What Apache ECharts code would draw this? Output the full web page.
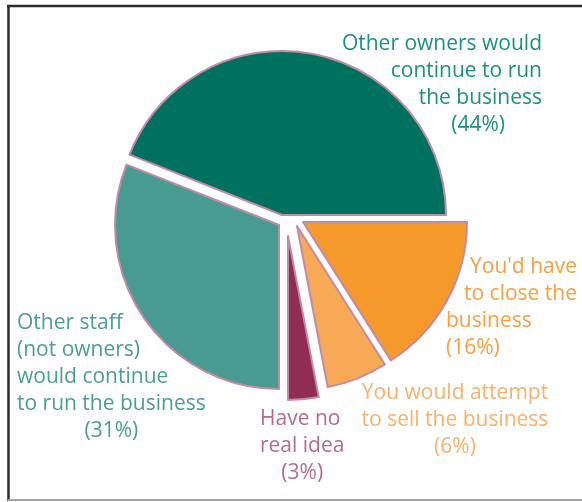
<!DOCTYPE html>
<html>
<head>
<meta charset="utf-8">
<script src="https://cdn.jsdelivr.net/npm/echarts@6/dist/echarts.min.js"></script>
<style>
  html, body { margin: 0; padding: 0; background: #ffffff; }
  #chart { width: 582px; height: 502px; }
</style>
</head>
<body>
<div id="chart"></div>
<script>
// Answers, in drawing order (counter-clockwise from 3 o'clock)
const categoryLines = [
  ['Other owners would', 'continue to run', 'the business'],
  ['Other staff', '(not owners)', 'would continue', 'to run the business'],
  ['Have no', 'real idea'],
  ['You would attempt', 'to sell the business'],
  ["You'd have", 'to close the', 'business']
];
const categories = categoryLines.map(lines => lines.join(' '));
const shares = [44, 31, 3, 6, 16];

// Look of each slice and its caption
const sliceFill   = ['#00705f', '#489b90', '#8f2d55', '#f8a956', '#f6992b'];
const captionInk  = ['#1a9181', '#4b9e94', '#b26d8d', '#f9b26b', '#f5a140'];
const edgeColor   = '#c38aa6';
const fontFamily  = '"Open Sans", "Noto Sans", sans-serif';
const fontSize    = 21;
const lineHeight  = 27;

// Exploded layout: each wedge sits on its own centre
const wedgeCentres = [[282, 215], [279, 225], [288, 236], [297, 226], [303, 222]];
const radius = 164;

// Caption blocks: anchor point, block alignment and per-line alignment
const captionLayout = [
  { x: 542, y: 31,  align: 'right',  lines: ['right', 'right', 'right'], pct: 'right', pctPad: 37 },
  { x: 17,  y: 310, align: 'left',   lines: ['left', 'left', 'left', 'left'], pct: 'center', pctPad: 0 },
  { x: 260, y: 406, align: 'left',   lines: ['left', 'left'], pct: 'center', pctPad: 0 },
  { x: 455, y: 380, align: 'center', lines: ['center', 'center'], pct: 'center', pctPad: 0 },
  { x: 446, y: 254, align: 'left',   lines: ['right', 'right', 'left'], pct: 'left', pctPad: 0, width: 131 }
];

function captionFor(i) {
  const lay = captionLayout[i];
  const base = { fontFamily, fontSize, lineHeight, color: captionInk[i], fontWeight: 'normal' };
  const rich = {};
  categoryLines[i].forEach((_, k) => { rich['l' + k] = Object.assign({}, base, { align: lay.lines[k] }); });
  rich.p = Object.assign({}, base, { align: lay.pct, padding: [0, lay.pctPad, 0, 0] });
  const label = {
    show: true,
    position: 'inside',
    formatter: p => categoryLines[i].map((t, k) => '{l' + k + '|' + t + '}').join('\n') + '\n{p|(' + p.value + '%)}',
    rich,
    fontFamily, fontSize, lineHeight, color: captionInk[i]
  };
  if (lay.width) { label.width = lay.width; label.overflow = 'none'; }
  return label;
}

const series = shares.map((_, i) => ({
  type: 'pie',
  center: wedgeCentres[i],
  radius: radius,
  startAngle: 0,
  clockwise: false,
  silent: true,
  animation: false,
  labelLine: { show: false },
  emphasis: { disabled: true },
  labelLayout: params => {
    const lay = captionLayout[params.dataIndex];
    return { x: lay.x, y: lay.y, align: lay.align, verticalAlign: 'top' };
  },
  data: shares.map((v, j) => ({
    value: v,
    name: categories[j],
    itemStyle: j === i
      ? { color: sliceFill[j], borderColor: edgeColor, borderWidth: 2 }
      : { color: 'rgba(0,0,0,0)', borderWidth: 0 },
    label: j === i ? captionFor(j) : { show: false }
  }))
}));

const chart = echarts.init(document.getElementById('chart'), null, { renderer: 'canvas' });
chart.setOption({
  backgroundColor: '#ffffff',
  graphic: [
    { type: 'line', z: -1, shape: { x1: 7, y1: 6, x2: 590, y2: 6 }, style: { stroke: '#2b2b2b', lineWidth: 2.5 } },
    { type: 'line', z: -1, shape: { x1: 8.5, y1: 5, x2: 8.5, y2: 501 }, style: { stroke: '#2b2b2b', lineWidth: 2.5 } },
    { type: 'line', z: -1, shape: { x1: 8, y1: 500, x2: 590, y2: 500 }, style: { stroke: '#a3a3a3', lineWidth: 2 } }
  ],
  series
});
</script>
</body>
</html>
